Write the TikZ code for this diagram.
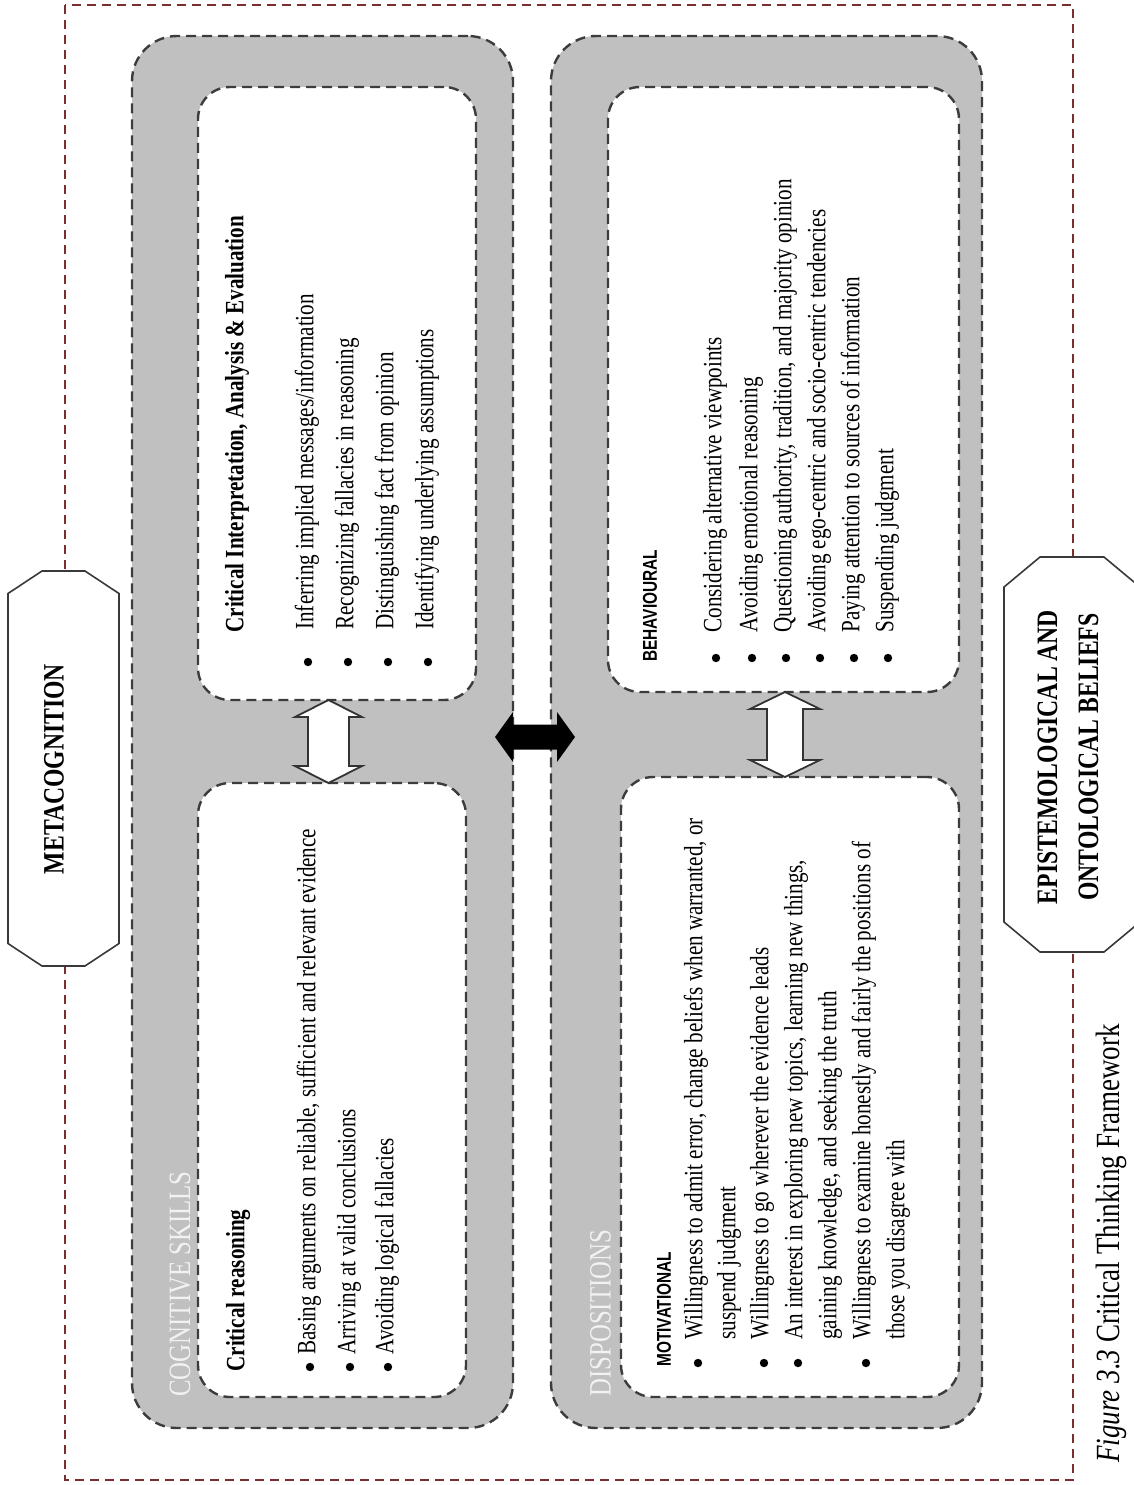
\documentclass[tikz,border=0pt]{standalone}
\usepackage{fontspec}
\newfontfamily\serifc{Liberation Serif}[FakeStretch=0.80]
\newfontfamily\sansc{Liberation Sans}[FakeStretch=0.77]
\usetikzlibrary{calc}
\definecolor{framered}{HTML}{7A2E2E}
\definecolor{boxgray}{HTML}{C0C0C0}
\definecolor{edgegray}{HTML}{3C3C3C}
\definecolor{labelwhite}{HTML}{F2F2F2}
\tikzset{
  panel/.style={draw=edgegray, fill=boxgray, line width=1.2pt, dash pattern=on 5pt off 3pt,
    rounded corners=22.5pt, inner sep=0pt, outer sep=0pt, anchor=north west},
  card/.style={draw=edgegray, fill=white, line width=1.2pt, dash pattern=on 5pt off 3pt,
    rounded corners=16pt, inner sep=0pt, outer sep=0pt, anchor=north west},
  txt/.style={rotate=90, anchor=mid west, inner sep=0pt, font=\serifc\fontsize{13.2}{15}\selectfont},
  hdtxt/.style={txt, font=\serifc\bfseries\fontsize{13.2}{15}\selectfont},
  captxt/.style={rotate=90, anchor=west, inner sep=0pt, font=\sansc\bfseries\fontsize{10}{12}\selectfont},
  ghost/.style={rotate=90, anchor=west, inner sep=0pt, text=labelwhite, font=\serifc\fontsize{15.5}{17}\selectfont},
  bigtitle/.style={rotate=90, inner sep=0pt, align=center, font=\serifc\bfseries\fontsize{14.8}{20.5}\selectfont},
  hollow/.style={draw=gray!40!black, fill=white, line width=0.9pt, line join=miter},
  octo/.style={draw=gray!45!black, fill=white, line width=0.8pt},
}
\begin{document}
\begin{tikzpicture}[x=0.5pt, y=-0.5pt]
\useasboundingbox (0,0) rectangle (1134,1485);

% outer frame
\draw[framered, line width=0.75pt, dash pattern=on 4.5pt off 3pt] (65,5) rectangle (1073,1480);

% two grey panels
\node[panel, minimum width=190.5pt, minimum height=696pt] (cog) at (132,36) {};
\node[panel, minimum width=215.5pt, minimum height=696pt] (disp) at (551,36) {};

% white cards
\node[card, minimum width=139pt, minimum height=306.5pt] (ctop) at (198,87) {};
\node[card, minimum width=134pt, minimum height=307pt] (cbot) at (198,783) {};
\node[card, minimum width=175.5pt, minimum height=302.5pt] (btop) at (608,87) {};
\node[card, minimum width=169pt, minimum height=310pt] (bbot) at (621,777) {};

% hollow two-way arrows between the cards
\coordinate (la) at (ctop.south -| 328.5,0);
\draw[hollow] (la) -- ++(33.5,17) -- ++(-13,0) -- ++(0,49) -- ++(13,0) -- ++(-33.5,17)
  -- ++(-33.5,-17) -- ++(13,0) -- ++(0,-49) -- ++(-13,0) -- cycle;
\coordinate (ra) at (btop.south -| 785,0);
\draw[hollow] (ra) -- ++(35,17) -- ++(-17,0) -- ++(0,51) -- ++(17,0) -- ++(-35,17)
  -- ++(-35,-17) -- ++(17,0) -- ++(0,-51) -- ++(-17,0) -- cycle;

% solid two-way arrow between the panels
\coordinate (bl) at ($(cog.east)+(-18,5)$);
\fill[black] (bl) -- ++(18,-25) -- ++(0,12.5) -- ++(44,0) -- ++(0,-12.5) -- ++(18,25)
  -- ++(-18,25) -- ++(0,-12.5) -- ++(-44,0) -- ++(0,12.5) -- cycle;

% panel labels
\node[ghost] (cogl) at (180,1397) {COGNITIVE SKILLS};
\node[ghost] (displ) at (600.5,1397) {DISPOSITIONS};

% critical interpretation card
\node[hdtxt] (ct0) at (239,633) {Critical Interpretation, Analysis \& Evaluation};
\foreach \x in {308,348,388,428} \fill (\x,662) circle[radius=2.1pt];
\node[txt] (ct1) at (309,630) {Inferring implied messages/information};
\node[txt] (ct2) at (349,630) {Recognizing fallacies in reasoning};
\node[txt] (ct3) at (389,630) {Distinguishing fact from opinion};
\node[txt] (ct4) at (429,630) {Identifying underlying assumptions};

% critical reasoning card
\node[hdtxt] (cb0) at (240,1372) {Critical reasoning};
\foreach \x in {310,350,388} \fill (\x,1367) circle[radius=2.1pt];
\node[txt] (cb1) at (311,1355) {Basing arguments on reliable, sufficient and relevant evidence};
\node[txt] (cb2) at (351,1355) {Arriving at valid conclusions};
\node[txt] (cb3) at (389,1355) {Avoiding logical fallacies};

% behavioural card
\node[captxt] (bt0) at (650,662) {BEHAVIOURAL};
\foreach \x in {716,752,786,820,854,888} \fill (\x,658) circle[radius=2.1pt];
\node[txt] (bt1) at (717,633) {Considering alternative viewpoints};
\node[txt] (bt2) at (753,633) {Avoiding emotional reasoning};
\node[txt] (bt3) at (787,633) {Questioning authority, tradition, and majority opinion};
\node[txt] (bt4) at (821,633) {Avoiding ego-centric and socio-centric tendencies};
\node[txt] (bt5) at (855,633) {Paying attention to sources of information};
\node[txt] (bt6) at (889,633) {Suspending judgment};

% motivational card
\node[captxt] (bb0) at (664,1367) {MOTIVATIONAL};
\foreach \x in {698,764,798,866} \fill (\x,1363) circle[radius=2.1pt];
\node[txt] (bb1) at (698,1340) {Willingness to admit error, change beliefs when warranted, or};
\node[txt] (bb2) at (731,1340) {suspend judgment};
\node[txt] (bb3) at (764,1340) {Willingness to go wherever the evidence leads};
\node[txt] (bb4) at (798,1340) {An interest in exploring new topics, learning new things,};
\node[txt] (bb5) at (832,1340) {gaining knowledge, and seeking the truth};
\node[txt] (bb6) at (866,1340) {Willingness to examine honestly and fairly the positions of};
\node[txt] (bb7) at (900,1340) {those you disagree with};

% side octagons
\coordinate (metac) at (63.5,768.5);
\filldraw[octo] ($(metac)+(-21.5,-197.5)$) -- ($(metac)+(21.5,-197.5)$) -- ($(metac)+(55.5,-175)$)
  -- ($(metac)+(55.5,175)$) -- ($(metac)+(21.5,197.5)$) -- ($(metac)+(-21.5,197.5)$)
  -- ($(metac)+(-55.5,175)$) -- ($(metac)+(-55.5,-175)$) -- cycle;
\node[bigtitle] (meta) at (54,769) {METACOGNITION};

\coordinate (epic) at (1072,754.5);
\filldraw[octo] ($(epic)+(-32,-197.5)$) -- ($(epic)+(32,-197.5)$) -- ($(epic)+(68,-167.5)$)
  -- ($(epic)+(68,167.5)$) -- ($(epic)+(32,197.5)$) -- ($(epic)+(-32,197.5)$)
  -- ($(epic)+(-68,167.5)$) -- ($(epic)+(-68,-167.5)$) -- cycle;
\node[bigtitle] (epi) at (1068,757) {EPISTEMOLOGICAL AND\\ONTOLOGICAL BELIEFS};

% caption
\node[rotate=90, anchor=mid west, inner sep=0pt, font=\serifc\fontsize{16.9}{19}\selectfont]
  (cap) at (1115,1463) {\textit{Figure 3.3} Critical Thinking Framework};
\end{tikzpicture}
\end{document}
